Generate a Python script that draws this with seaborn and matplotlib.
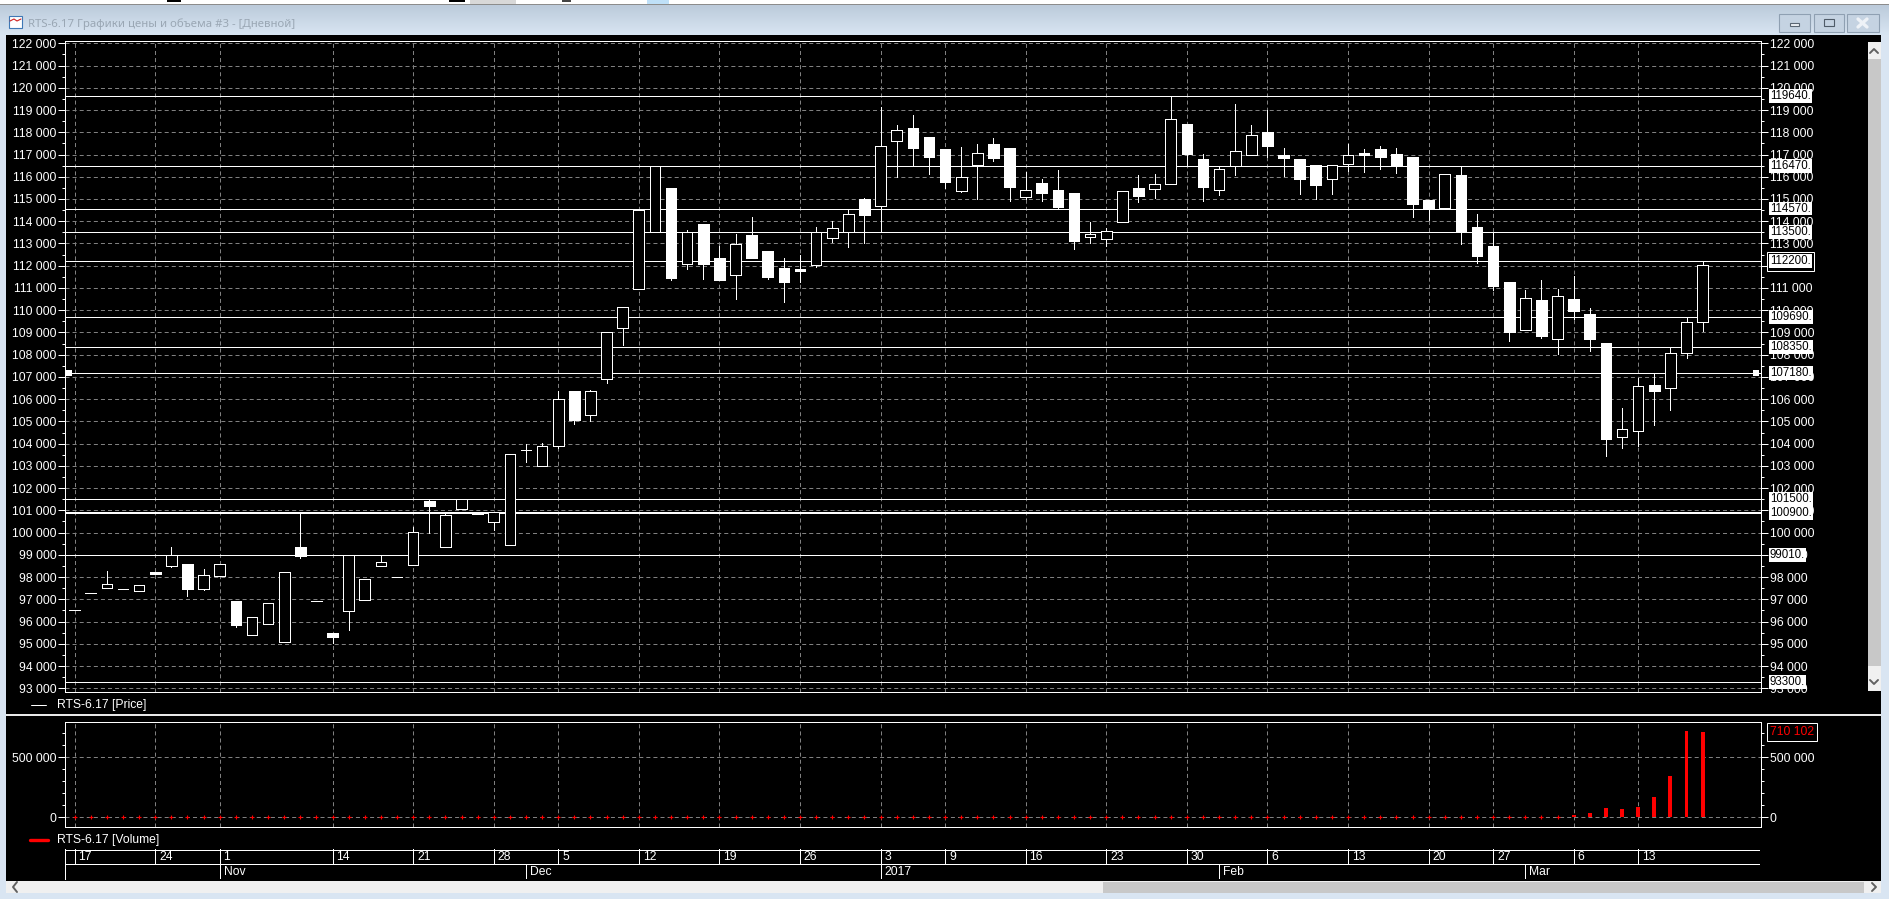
import numpy as np
import pandas as pd
import matplotlib
matplotlib.use('Agg')
import matplotlib.pyplot as plt
from matplotlib.patches import Rectangle
from matplotlib.ticker import FixedLocator, FuncFormatter, NullFormatter
import seaborn as sns

# daily candles, RTS-6.17
opens = [96500, 97275, 97530, 97455, 97395, 98235, 98520, 98595, 97485, 98070, 96930, 95415, 95910, 95100, 99360, 96915, 95475, 96495, 96990, 98520,
         97995, 98565, 101415, 99375, 101040, 100920, 100455, 99465, 103710, 102975, 103906, 106366, 105300, 106892, 109213, 110959, 113494, 115489, 112084, 113869,
         112339, 111589, 113374, 112684, 111889, 111844, 112024, 113254, 113494, 114994, 114694, 117619, 118189, 117784, 117244, 115369, 116539, 117469, 117289, 115084,
         115714, 115399, 115264, 113299, 113194, 113974, 115489, 115459, 115684, 118369, 116794, 115414, 116479, 116974, 118009, 116984, 116794, 116524, 115909, 116584,
         117064, 117244, 117019, 116884, 114949, 114574, 116074, 113734, 112879, 111259, 109124, 110449, 108719, 110494, 109829, 108524, 104279, 104579, 106619, 106514,
         108059, 109484]
highs = [96500, 97275, 98280, 97455, 97635, 98235, 99360, 98595, 98370, 98580, 96930, 96195, 96825, 98220, 100920, 96915, 95475, 99015, 97905, 99015,
         97995, 100230, 101505, 100920, 101505, 100920, 100905, 103530, 103995, 104025, 106366, 106366, 106410, 109005, 110130, 114484, 116494, 115489, 113599, 113869,
         112894, 113419, 114184, 112684, 112339, 112474, 113734, 114004, 114499, 115039, 119134, 118324, 118774, 117784, 117244, 117334, 117469, 117739, 117289, 116209,
         115879, 116299, 115264, 113959, 113689, 115339, 116074, 116119, 119584, 118369, 117019, 116434, 119269, 118324, 118999, 117274, 116794, 116524, 116509, 117469,
         117244, 117379, 117274, 116884, 114949, 116104, 116434, 114319, 113464, 111259, 110899, 111349, 110974, 111544, 110084, 108524, 105584, 106964, 107129, 108314,
         109664, 112174]
lows = [96500, 97275, 97530, 97455, 97395, 98145, 98475, 97170, 97440, 98070, 95760, 95415, 95910, 95100, 98880, 96915, 95025, 95625, 96990, 98520,
        97995, 98565, 99960, 99375, 101040, 100815, 100125, 99465, 103185, 102975, 103816, 104897, 105017, 106740, 108448, 110959, 113494, 111349, 111844, 111394,
        111349, 110494, 112339, 111394, 110359, 111289, 111949, 113074, 112849, 113014, 113494, 115984, 116464, 116119, 115489, 115309, 114994, 116704, 114904, 114979,
        114904, 114589, 112744, 113014, 112879, 113974, 114859, 115039, 115684, 116524, 114904, 115174, 116074, 116959, 116884, 116029, 115219, 114994, 115219, 116269,
        116209, 116344, 116164, 114184, 114049, 114574, 112969, 112114, 110899, 108614, 109124, 108764, 108029, 109604, 108164, 103454, 103799, 103889, 104834, 105509,
        107864, 109064]
closes = [96500, 97275, 97680, 97455, 97635, 98145, 98985, 97485, 98085, 98580, 95850, 96195, 96825, 98220, 98955, 96915, 95310, 99015, 97905, 98700,
          97995, 100020, 101205, 100785, 101505, 100815, 100905, 103530, 103710, 103890, 105993, 105062, 106352, 109005, 110130, 114484, 116494, 111439, 113494, 112069,
          111349, 112954, 112339, 111484, 111259, 111754, 113494, 113674, 114304, 114274, 117364, 118084, 117289, 116884, 115759, 115969, 117049, 116839, 115534, 115384,
          115264, 114634, 113104, 113404, 113539, 115339, 115129, 115654, 118579, 117019, 115534, 116329, 117139, 117859, 117379, 116839, 115894, 115624, 116509, 116984,
          116974, 116884, 116479, 114769, 114574, 116104, 113554, 112429, 111079, 109019, 110569, 108839, 110629, 109964, 108704, 104219, 104639, 106604, 106379, 108059,
          109454, 112054]
volumes = [300, 400, 800, 300, 900, 300, 600, 900, 500, 800, 500, 400, 800, 500, 400, 400, 600, 500, 400, 500,
           700, 500, 900, 500, 500, 500, 500, 700, 600, 600, 500, 600, 800, 700, 500, 500, 700, 800, 700, 800,
           700, 500, 600, 800, 500, 500, 700, 700, 700, 800, 700, 700, 800, 800, 900, 700, 900, 800, 900, 600,
           800, 900, 700, 600, 800, 700, 800, 700, 800, 700, 900, 800, 800, 800, 800, 800, 900, 900, 800, 900,
           800, 900, 900, 900, 900, 800, 800, 900, 1000, 4500, 4500, 6000, 6000, 22000, 39000, 75000, 67000, 89000, 167000, 347000,
           722000, 710102]

levels = [119640, 116470, 114570, 113500, 112200, 109690, 108350, 107180, 101500, 100900, 99010, 93300]
last_price = 107180
week_idx = [0, 5, 9, 16, 21, 26, 30, 35, 40, 45, 50, 54, 59, 64, 69, 74, 79, 84, 88, 93, 97]
week_labels = ['17', '24', '1', '14', '21', '28', '5', '12', '19', '26', '3', '9', '16', '23', '30', '6', '13', '20', '27', '6', '13']
month_idx = [9, 28, 50, 71, 90]
month_labels = ['Nov', 'Dec', '2017', 'Feb', 'Mar']

W, H = 1889, 899
L, R = 65.3, 1761
BLUE = '#d9e5f2'
GREY = '#808080'
LW = 0.72  # one pixel at dpi 100
FS = 8.7

sns.set_theme(style='dark', rc={
    'axes.facecolor': 'black', 'axes.edgecolor': 'white', 'axes.linewidth': LW,
    'figure.facecolor': BLUE, 'text.color': 'white', 'xtick.color': 'white', 'ytick.color': 'white',
    'lines.scale_dashes': False, 'axes.grid': False, 'patch.edgecolor': 'white'})
plt.rcParams['font.family'] = ['Liberation Sans', 'DejaVu Sans']

df = pd.DataFrame({'open': opens, 'high': highs, 'low': lows, 'close': closes, 'volume': volumes})
df['i'] = df.index
df['top'] = df[['open', 'close']].max(axis=1)
df['bottom'] = df[['open', 'close']].min(axis=1)
df['down'] = df['close'] < df['open']

fig = plt.figure(figsize=(W / 100, H / 100), dpi=100)


def px_axes(left, top, right, bottom):
    return fig.add_axes([left / W, 1 - bottom / H, (right - left) / W, (bottom - top) / H])


# window around the chart
bg = fig.add_axes([0, 0, 1, 1], zorder=-1)
bg.set_xlim(0, W)
bg.set_ylim(H, 0)
bg.axis('off')
bg.imshow(np.linspace(0, 1, 40).reshape(-1, 1), extent=(0, W, 35, 5), aspect='auto',
          cmap=matplotlib.colors.LinearSegmentedColormap.from_list('t', ['#bccbdb', '#d8e5f2']), zorder=0)
bg.set_xlim(0, W)
bg.set_ylim(H, 0)


def box(x0, y0, x1, y1, color, edge='none', z=1):
    bg.add_patch(Rectangle((x0, y0), x1 - x0, y1 - y0, facecolor=color, edgecolor=edge, lw=0.8, zorder=z))


box(0, 0, W, 4, 'white')
box(0, 3.5, W, 5, '#8c8c8c')
box(167, 0, 181, 1.5, 'black', z=2)
box(449, 0, 465, 1.5, 'black', z=2)
box(470, 0, 516, 3.5, '#d8d8d8', z=2)
box(562, 0, 571, 1.5, '#444444', z=2)
box(647, 0, 669, 3.5, '#bfe0f8', z=2)
box(6, 35, 1881, 881, 'black')
box(6, 881, 1881, 893, '#f0f0f0')
box(1103, 882, 1864, 893, '#c8c8c8', z=2)
box(1868, 42, 1880.5, 690.5, '#f0f0f0', z=2)
box(1868, 59, 1880.5, 666, '#c8c8c8', z=3)
box(6, 713.5, 1881, 715.5, '#e8e8e8', z=2)
bg.plot([17, 13, 17], [882, 887, 892], color='#606060', lw=1.4, zorder=3)
bg.plot([1872, 1876, 1872], [883, 887, 891], color='#606060', lw=1.4, zorder=3)
bg.plot([1870, 1874, 1878], [53, 49, 53], color='#606060', lw=1.4, zorder=4)
bg.plot([1870, 1874, 1878], [680, 684, 680], color='#606060', lw=1.4, zorder=4)
for x0, x1 in [(1779, 1810), (1814, 1844), (1847, 1879)]:
    box(x0, 14, x1, 32, '#c5d3e2', edge='#8fa0b2', z=2)
box(1790, 22.5, 1799, 26, '#eef2f7', edge='#5a6673', z=3)
box(1824, 19, 1834, 25.5, '#c5d3e2', edge='#4f5b68', z=3)
bg.plot([1858, 1867], [19, 27], color='#eef2f7', lw=2.4, zorder=3)
bg.plot([1858, 1867], [27, 19], color='#eef2f7', lw=2.4, zorder=3)
box(9, 16, 22, 28, 'white', edge='#3f78b5', z=2)
bg.plot([10, 14, 17, 21], [21, 19, 21, 19], color='#d02020', lw=0.8, zorder=3)
bg.text(28, 24, 'RTS-6.17 Графики цены и объема #3 - [Дневной]', color='#9aa7b4', fontsize=8.2,
        family='Noto Sans', va='center', ha='left', zorder=3)

# price panel
ax = px_axes(L, 41.3, R, 692.3)
ax.set_facecolor('black')
ax.hlines([l for l in levels if l != 100900], -1, 110, color='white', lw=LW, antialiased=False, zorder=1.5)
ax.hlines(100900, -1, 110, color='white', lw=2 * LW, antialiased=False, zorder=1.5)
ax.vlines(df['i'], df['low'], df['high'], color='white', lw=LW, antialiased=False, zorder=2)
ax.bar(df['i'], df['top'] - df['bottom'], bottom=df['bottom'], width=0.66,
       color=np.where(df['down'], 'white', 'black'), edgecolor='white', linewidth=LW, antialiased=False, zorder=3)
ax.hlines(df.loc[df['top'] == df['bottom'], 'top'], df.loc[df['top'] == df['bottom'], 'i'] - 0.33,
          df.loc[df['top'] == df['bottom'], 'i'] + 0.33, color='white', lw=LW, antialiased=False, zorder=3)
sns.scatterplot(x=[-0.35, 104.3], y=[last_price, last_price], marker='s', color='white', s=18, linewidth=0,
                clip_on=False, ax=ax, zorder=4, legend=False)
ax.set_ylim(92820, 122090)
ax.yaxis.set_major_locator(FixedLocator(np.arange(93000, 122001, 1000)))
ax.yaxis.set_minor_locator(FixedLocator(np.arange(93500, 122000, 1000)))

# volume panel
ax2 = px_axes(L, 722.3, R, 827)
ax2.set_facecolor('black')
sns.barplot(data=df, x='i', y='volume', native_scale=True, color='#ff0000', width=0.24, saturation=1,
            linewidth=0, ax=ax2, zorder=3)
small = df[df['volume'] < 10000]
sns.scatterplot(data=small, x='i', y='volume', marker='+', color='#ff0000', s=9, linewidth=0.8, ax=ax2, zorder=3)
ax2.set_xlabel('')
ax2.set_ylabel('')
ax2.set_ylim(-80800, 791600)
ax2.yaxis.set_major_locator(FixedLocator([0, 500000]))
ax2.yaxis.set_minor_locator(FixedLocator([100000, 200000, 300000, 400000, 600000, 700000]))

fmt = FuncFormatter(lambda v, p: f'{v:,.0f}'.replace(',', ' '))
for a in (ax, ax2):
    a.set_xlim(-0.58, 104.62)
    a.set_xticks(week_idx)
    a.set_xticklabels([])
    a.yaxis.set_major_formatter(fmt)
    a.yaxis.set_minor_formatter(NullFormatter())
    a.tick_params(axis='x', which='both', length=0, bottom=False)
    a.tick_params(axis='y', which='major', left=True, right=True, labelleft=True, labelright=True,
                  length=5, width=LW, pad=1.2, labelsize=FS, colors='white')
    a.tick_params(axis='y', which='minor', left=True, right=True, length=2.4, width=LW, colors='white')
    a.grid(True, which='major', color=GREY, lw=LW, linestyle=(0, (2.9, 2.2)))
    a.set_axisbelow(True)
    for s in a.spines.values():
        s.set_color('white')
        s.set_linewidth(LW)
        s.set_zorder(5)

# value tags on the right axis
tag_x = 1 + (1770 - R) / (R - L)
trans = ax.get_yaxis_transform()
for lvl in levels:
    if lvl == 112200:
        ax.text(tag_x, lvl, f'{lvl}.', color='none', fontsize=FS - 0.4, va='center', ha='left', transform=trans,
                clip_on=False, zorder=5.5,
                bbox=dict(facecolor='black', edgecolor='white', lw=LW, boxstyle='square,pad=0.3'))
    ax.text(tag_x, lvl, f'{lvl}.', color='black', fontsize=FS - 0.4, va='center', ha='left', transform=trans,
            clip_on=False, zorder=6,
            bbox=dict(facecolor='white', edgecolor='none', boxstyle='square,pad=0.08'))
ax2.text(tag_x, volumes[-1], f'{volumes[-1]:,}'.replace(',', ' '), color='#ff0000', fontsize=FS, va='center',
         ha='left', transform=ax2.get_yaxis_transform(), clip_on=False, zorder=6,
         bbox=dict(facecolor='black', edgecolor='white', lw=LW, boxstyle='square,pad=0.22'))

# legends
bg.plot([31, 46], [705, 705], color='white', lw=LW, zorder=3)
bg.plot([30, 48], [840, 840], color='#ff0000', lw=2.4, zorder=3)
bg.text(57, 705, 'RTS-6.17 [Price]', color='white', fontsize=FS, va='center', ha='left', zorder=3)
bg.text(57, 840, 'RTS-6.17 [Volume]', color='white', fontsize=FS, va='center', ha='left', zorder=3)

# date strip
ax3 = px_axes(L, 849.3, R, 879.3)
ax3.set_facecolor('black')
ax3.set_xlim(-0.58, 104.62)
ax3.set_ylim(0, 2)
ax3.set_xticks([])
ax3.set_yticks([])
for name, s in ax3.spines.items():
    s.set_visible(name == 'left')
    s.set_color('white')
ax3.hlines([0.03, 1, 1.97], -0.58, 104.5, color='white', lw=LW, antialiased=False)
ax3.vlines(week_idx, 1, 2, color='white', lw=LW, antialiased=False)
ax3.vlines(month_idx, 0, 1, color='white', lw=LW, antialiased=False)
for i, t in zip(week_idx, week_labels):
    ax3.text(i + 0.24, 1.47, t, color='white', fontsize=FS, va='center', ha='left')
for i, t in zip(month_idx, month_labels):
    ax3.text(i + 0.24, 0.47, t, color='white', fontsize=FS, va='center', ha='left')

fig.savefig('out.png', dpi=100, facecolor=BLUE)
